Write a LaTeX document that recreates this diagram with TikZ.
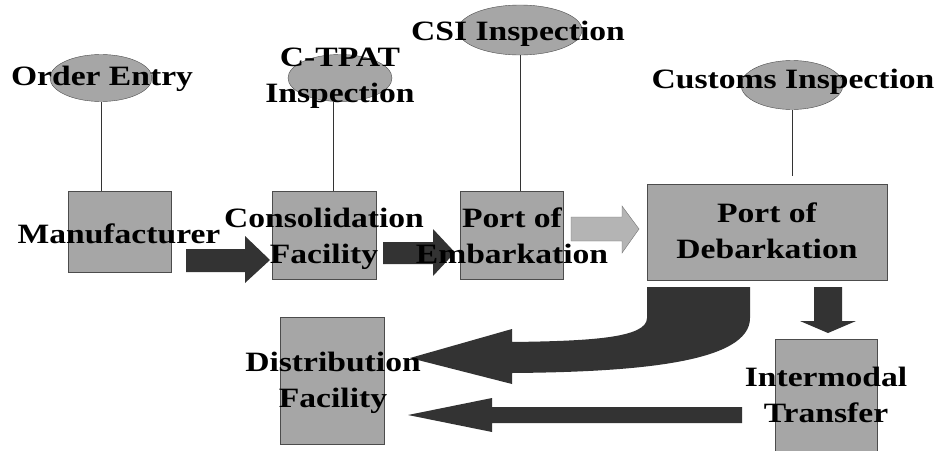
\documentclass[tikz,border=0pt]{standalone}
\usepackage{fontspec}
\setmainfont{Liberation Serif}[FakeStretch=1.2]
\usetikzlibrary{shapes.geometric}

\definecolor{boxgray}{HTML}{A6A6A6}
\definecolor{arrowdark}{HTML}{333333}
\definecolor{arrowlight}{HTML}{B4B4B4}

\tikzset{
  stage/.style={draw=black!70, fill=boxgray, rectangle, inner sep=0pt},
  check/.style={draw=black!70, fill=boxgray, ellipse, inner sep=0pt},
  lbl/.style={font=\fontsize{28}{36}\selectfont\bfseries, align=center, inner sep=0pt, anchor=base},
  tie/.style={draw=black!80, line width=0.9pt},
  bigarrow/.style={fill=arrowdark},
}

\begin{document}
\begin{tikzpicture}[x=1pt, y=-1pt]
    \useasboundingbox (0,0) rectangle (937,450);

    % Process boxes
    \node[stage, minimum width=103, minimum height=81] (mfr) at (119.5,231.5) {};
    \node[stage, minimum width=104, minimum height=88] (cons) at (324,235) {};
    \node[stage, minimum width=103, minimum height=88] (emb) at (511.5,235) {};
    \node[stage, minimum width=240, minimum height=96] (deb) at (767,232) {};
    \node[stage, minimum width=104, minimum height=127] (dist) at (332,380.5) {};
    \node[stage, minimum width=102, minimum height=112] (inter) at (826,395) {};

    % Inspection ellipses
    \node[check, minimum width=102, minimum height=47] (order) at (101,78) {};
    \node[check, minimum width=104, minimum height=47] (ctpat) at (340,78) {};
    \node[check, minimum width=124, minimum height=50] (csi) at (520,30) {};
    \node[check, minimum width=102, minimum height=49] (cust) at (792,85) {};

    % Ties from ellipses down to boxes
    \draw[tie] (order.south) -- (order.south |- mfr.north);
    \draw[tie] ([xshift=-7pt]ctpat.south) -- ([xshift=-7pt]ctpat.south |- cons.north);
    \draw[tie] (csi.south) -- (csi.south |- emb.north);
    \draw[tie, shorten >=8pt] (cust.south) -- (cust.south |- deb.north);

    % Block arrows along the chain
    \fill[bigarrow] (186,249) -- (245,249) -- (245,236) -- (270,260) -- (245,283) -- (245,272) -- (186,272) -- cycle;
    \fill[bigarrow] (383,242) -- (433,242) -- (433,229) -- (455,252.5) -- (433,276) -- (433,264) -- (383,264) -- cycle;
    \filldraw[fill=arrowlight, draw=black!55] (571,217) -- (622,217) -- (622,206) -- (639,229) -- (622,253) -- (622,241) -- (571,241) -- cycle;
    \fill[bigarrow] (814,287) -- (842,287) -- (842,321) -- (856,321) -- (828,333) -- (800,321) -- (814,321) -- cycle;
    \fill[bigarrow] (742,407) -- (492,407) -- (492,398) -- (408,415) -- (492,432) -- (492,423) -- (742,423) -- cycle;
    % Curved arrow to distribution
    \fill[bigarrow] (647,287) -- (750,287) -- (750,318)
        .. controls (750,362) and (640,372) .. (512,373)
        -- (512,384) -- (410,358) -- (512,329) -- (512,342)
        .. controls (590,341) and (647,338) .. (647,318) -- cycle;

    % Labels (base = last line)
    \node[lbl] (t-order) at (102,85) {Order Entry};
    \node[lbl] (t-ctpat) at (340,102) {C-TPAT\\Inspection};
    \node[lbl] (t-csi) at (518,40) {CSI Inspection};
    \node[lbl] (t-cust) at (793,88) {Customs Inspection};
    \node[lbl] (t-mfr) at (119,243) {Manufacturer};
    \node[lbl] (t-cons) at (324,263) {Consolidation\\Facility};
    \node[lbl] (t-emb) at (512,263) {Port of\\Embarkation};
    \node[lbl] (t-deb) at (767,258) {Port of\\Debarkation};
    \node[lbl] (t-dist) at (333,407) {Distribution\\Facility};
    \node[lbl] (t-inter) at (826,422) {Intermodal\\Transfer};
\end{tikzpicture}
\end{document}
